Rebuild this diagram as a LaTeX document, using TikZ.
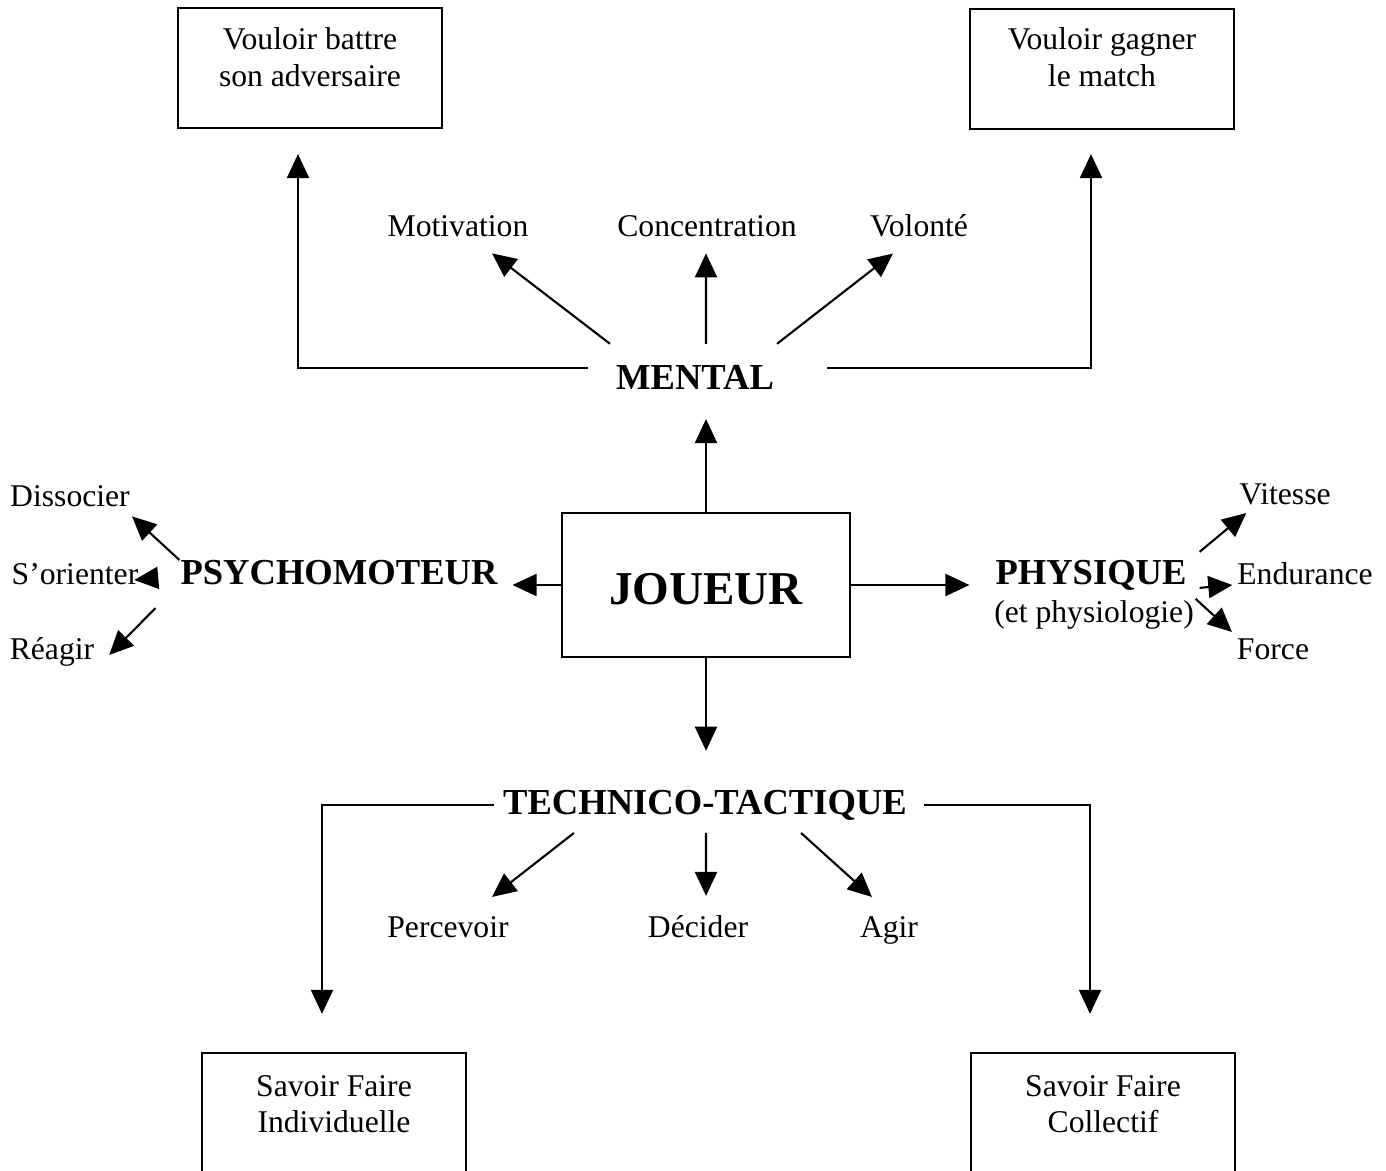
\documentclass[tikz,border=0pt]{standalone}
\usepackage{fontspec}
\setmainfont{Liberation Serif}
\usetikzlibrary{arrows.meta,calc}
\begin{document}
\begin{tikzpicture}[x=0.01cm,y=-0.01cm,
  line width=0.6pt,
  lbl/.style={inner sep=0pt,anchor=base,font=\fontsize{9pt}{10.5pt}\selectfont},
  head/.style={inner sep=0pt,anchor=base,font=\bfseries\fontsize{10.4pt}{12pt}\selectfont},
  boxtxt/.style={inner sep=0pt,anchor=north,align=center,font=\fontsize{9pt}{10.5pt}\selectfont},
  box/.style={draw,inner sep=0pt},
  arr/.style={-{Triangle[length=2.4mm,width=2.2mm]}}]
\clip (0,0) rectangle (1386,1171);
\fill[white] (0,0) rectangle (1386,1171);

% top boxes
\node[box,minimum width=2.64cm,minimum height=1.2cm] (boxtl) at (310,68) {};
\node[boxtxt] (boxtlt) at (310,27) {Vouloir battre\\son adversaire};
\node[box,minimum width=2.64cm,minimum height=1.2cm] (boxtr) at (1102,69) {};
\node[boxtxt] (boxtrt) at (1102,27) {Vouloir gagner\\le match};

% bottom boxes
\node[box,minimum width=2.64cm,minimum height=2.0cm] (boxbl) at (334,1153) {};
\node[boxtxt] (boxblt) at (334,1074) {Savoir Faire\\Individuelle};
\node[box,minimum width=2.64cm,minimum height=2.0cm] (boxbr) at (1103,1153) {};
\node[boxtxt] (boxbrt) at (1103,1074) {Savoir Faire\\Collectif};

% mental branch
\node[head] (mental) at (695,390) {MENTAL};
\node[lbl] (motiv) at (458,237) {Motivation};
\node[lbl] (concen) at (707,237) {Concentration};
\node[lbl] (volonte) at (919,237) {Volonté};

% centre
\node[box,minimum width=2.88cm,minimum height=1.44cm,text height=0.38cm,text depth=0cm,font=\bfseries\fontsize{13.4pt}{16pt}\selectfont] (joueur) at (706,585) {JOUEUR};

% psychomoteur
\node[head] (psycho) at (339,585) {PSYCHOMOTEUR};
\node[lbl] (dissocier) at (70,507) {Dissocier};
\node[lbl] (sorienter) at (75,585) {S’orienter};
\node[lbl] (reagir) at (52,660) {Réagir};

% physique
\node[head] (physique) at (1091,585) {PHYSIQUE};
\node[lbl] (physio) at (1094,623) {(et physiologie)};
\node[lbl] (vitesse) at (1285,505) {Vitesse};
\node[lbl] (endurance) at (1305,585) {Endurance};
\node[lbl] (force) at (1273,660) {Force};

% technico
\node[head] (technico) at (705,814) {TECHNICO-TACTIQUE};
\node[lbl] (percevoir) at (448,937) {Percevoir};
\node[lbl] (decider) at (698,937) {Décider};
\node[lbl] (agir) at (889,937) {Agir};

% connectors mental
\draw[arr] ([xshift=-0.27cm,yshift=0.10cm]mental.west) -| ([xshift=-0.12cm,yshift=-0.25cm]boxtl.south);
\draw[arr] ([xshift=0.52cm,yshift=0.10cm]mental.east) -| ([xshift=-0.11cm,yshift=-0.24cm]boxtr.south);
\draw[arr] ([xshift=-0.85cm,yshift=0.21cm]mental.north) -- ([xshift=0.34cm,yshift=-0.15cm]motiv.south);
\draw[arr] ([xshift=0.11cm,yshift=0.21cm]mental.north) -- ([xshift=-0.01cm,yshift=-0.15cm]concen.south);
\draw[arr] ([xshift=0.82cm,yshift=0.21cm]mental.north) -- ([xshift=-0.26cm,yshift=-0.15cm]volonte.south);

% connectors joueur
\draw[arr,shorten >=0.28cm] (joueur.north) -- (joueur.north |- mental.south);
\draw[arr,shorten >=0.38cm] (joueur.south) -- (joueur.south |- technico.north);
\draw[arr,shorten >=0.14cm] (joueur.west) -- (joueur.west -| psycho.east);
\draw[arr,shorten >=0.25cm] (joueur.east) -- (joueur.east -| physique.west);

% psychomoteur arrows
\draw[arr] ([yshift=0.13cm]psycho.west) -- ([xshift=0.62cm,yshift=-0.08cm]dissocier.south);
\draw[arr] ([xshift=-0.23cm,yshift=-0.05cm]psycho.west) -- ([xshift=-0.05cm,yshift=0.05cm]sorienter.base east);
\draw[arr] ([xshift=-0.24cm,yshift=-0.35cm]psycho.west) -- ([xshift=0.14cm,yshift=0.05cm]reagir.base east);

% physique arrows
\draw[arr] ([xshift=0.12cm,yshift=0.24cm]physique.east) -- ([xshift=0.08cm,yshift=-0.08cm]vitesse.base west);
\draw[arr] ([xshift=0.12cm,yshift=-0.12cm]physique.east) -- ([xshift=-0.04cm,yshift=0.0cm]endurance.base west);
\draw[arr] ([xshift=0.08cm,yshift=-0.23cm]physique.east) -- ([xshift=-0.04cm,yshift=0.28cm]force.base west);

% technico connectors
\draw[arr] ([xshift=-0.08cm]technico.west) -| ([xshift=-0.12cm,yshift=0.38cm]boxbl.north);
\draw[arr] ([xshift=0.16cm]technico.east) -| ([xshift=-0.13cm,yshift=0.38cm]boxbr.north);
\draw[arr] ([xshift=-1.31cm,yshift=-0.12cm]technico.south) -- ([xshift=0.44cm,yshift=0.18cm]percevoir.north);
\draw[arr] ([xshift=0.01cm,yshift=-0.12cm]technico.south) -- ([xshift=0.08cm,yshift=0.18cm]decider.north);
\draw[arr] ([xshift=0.96cm,yshift=-0.12cm]technico.south) -- ([xshift=-0.17cm,yshift=0.18cm]agir.north);
\end{tikzpicture}
\end{document}
